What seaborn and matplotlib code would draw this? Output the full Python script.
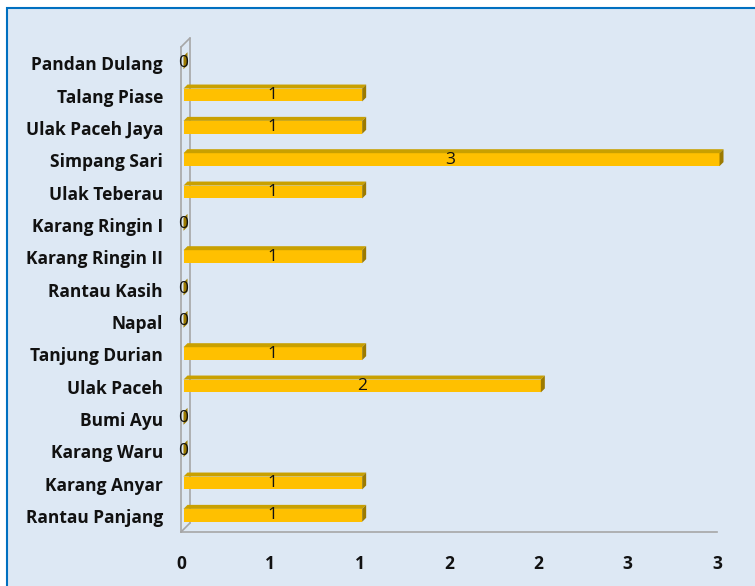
import numpy as np
import pandas as pd
import matplotlib
matplotlib.use("Agg")
import matplotlib.pyplot as plt
from matplotlib.patches import Polygon, Rectangle
import seaborn as sns

# Data (top to bottom as in the chart)
villages = ["Pandan Dulang", "Talang Piase", "Ulak Paceh Jaya", "Simpang Sari",
            "Ulak Teberau", "Karang Ringin I", "Karang Ringin II", "Rantau Kasih",
            "Napal", "Tanjung Durian", "Ulak Paceh", "Bumi Ayu", "Karang Waru",
            "Karang Anyar", "Rantau Panjang"]
counts = [0, 1, 1, 3, 1, 0, 1, 0, 0, 1, 2, 0, 0, 1, 1]
x_ticks = [0, 0.5, 1, 1.5, 2, 2.5, 3]

data = pd.DataFrame({"desa": villages, "jumlah": counts})

bg = "#dde8f4"
front = "#ffc000"
top_c = "#c9a000"
side_c = "#9c7a00"
axis_c = "#a6a6a6"

sns.set_style("white")
plt.rcParams["font.family"] = ["Open Sans", "DejaVu Sans"]

fig = plt.figure(figsize=(7.55, 5.86), dpi=100)
fig.patch.set_facecolor("white")
fig.patches.append(Rectangle((7 / 755, -0.05), 1.2, 1.05 - 8 / 586,
                             transform=fig.transFigure, facecolor=bg,
                             edgecolor="#0070c0", linewidth=1.5, zorder=-5))

ax = fig.add_axes([181 / 755, 54 / 586, 536 / 755, 485 / 586])
ax.set_facecolor("none")

sns.barplot(data=data, x="jumlah", y="desa", orient="h", color=front,
            saturation=1, width=0.4, ax=ax, zorder=3)
ax.set_xlim(0, 3)
ax.set_ylim(14.5, -0.5)

# pseudo-3D depth of the bars (bars sit a little inside the 3D box)
w_px, h_px = 536, 485
ux, uy = 3 / w_px, 15 / h_px   # data units per pixel
dx, dy = 4 * ux, 4 * uy
sx, sy = 2.5 * ux, 0.5 * uy
for p in list(ax.patches):
    p.set_edgecolor("none")
    p.set_x(p.get_x() + sx)
    p.set_y(p.get_y() - sy)
    x0, y0 = p.get_x(), p.get_y()
    x1, y1 = x0 + p.get_width(), y0 + p.get_height()
    ax.add_patch(Polygon([(x0, y0), (x1, y0), (x1 + dx, y0 - dy), (x0 + dx, y0 - dy)],
                         closed=True, facecolor=top_c, edgecolor="none", zorder=3,
                         clip_on=False))
    ax.add_patch(Polygon([(x1, y0), (x1, y1), (x1 + dx, y1 - dy), (x1 + dx, y0 - dy)],
                         closed=True, facecolor=side_c, edgecolor="none", zorder=3,
                         clip_on=False))
    p.set_clip_on(False)

ax.bar_label(ax.containers[0], label_type="center", fontsize=12.5, color="#111111",
             zorder=5)

# back wall and floor edges
wx, wy = 9 * ux, 9 * uy
ax.plot([wx, wx], [14.5 - wy, -0.5 - wy], color=axis_c, lw=1.2, clip_on=False, zorder=1)
ax.plot([0, wx], [-0.5, -0.5 - wy], color=axis_c, lw=1.2, clip_on=False, zorder=1)
ax.plot([0, wx], [14.5, 14.5 - wy], color=axis_c, lw=1.2, clip_on=False, zorder=1)

sns.despine(ax=ax, top=True, right=True)
for s in ["left", "bottom"]:
    ax.spines[s].set_color(axis_c)
    ax.spines[s].set_linewidth(1.2)

ax.set_xticks(x_ticks)
ax.set_xticklabels([str(int(np.floor(v + 0.5))) for v in x_ticks],
                   fontweight="bold", fontsize=12.5)
ax.set_yticks(range(len(villages)))
ax.set_yticklabels(villages, fontweight="bold", fontsize=12.5)
ax.set_yticks(np.arange(-0.5, len(villages), 1), minor=True)
ax.tick_params(axis="y", which="major", length=0, pad=13, colors="#111111")
ax.tick_params(axis="y", which="minor", length=3.5, width=1, color=axis_c)
ax.tick_params(axis="x", which="major", length=3.5, width=1, color=axis_c,
               pad=13, labelcolor="#111111")
ax.set_xlabel("")
ax.set_ylabel("")

fig.savefig("out.png", dpi=100)
